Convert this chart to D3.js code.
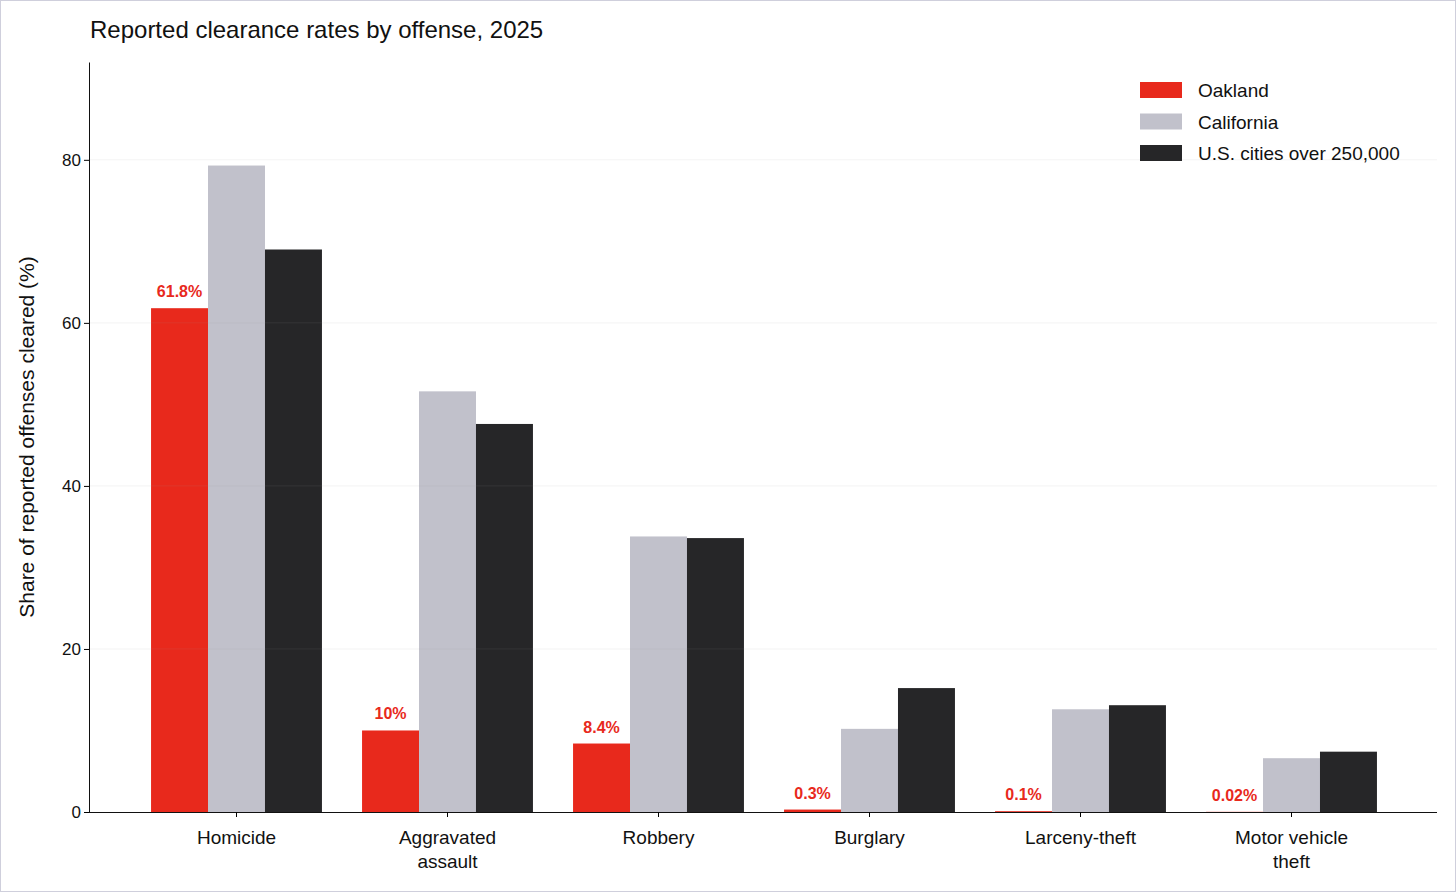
<!DOCTYPE html><html><head><meta charset="utf-8"><script src="https://cdn.jsdelivr.net/npm/d3@7"></script>
<style>body{margin:0;background:#fff}svg{display:block;font-family:"Liberation Sans",Arial,sans-serif}</style></head><body><svg id="c" width="1456" height="892"></svg><script>
const categories=["Homicide","Aggravated\nassault","Robbery","Burglary","Larceny-theft","Motor vehicle\ntheft"];
const seriesNames=["Oakland","California","U.S. cities over 250,000"];
const oakland=[61.8,10,8.4,0.3,0.1,0.02];
const california=[79.3,51.6,33.8,10.2,12.6,6.6];
const usCities=[69,47.6,33.6,15.2,13.1,7.4];
const oaklandLabels=["61.8%","10%","8.4%","0.3%","0.1%","0.02%"];
const yTicks=[0,20,40,60,80];
const colors=["#e8291c","#c1c1cb","#262628"];
const svg=d3.select("#c");
svg.append("rect").attr("x",0.5).attr("y",0.5).attr("width",1455).attr("height",891).attr("fill","none").attr("stroke","#cfcfdc");
const y=d3.scaleLinear().domain([0,92]).range([812,62]);
const x=d3.scaleBand().domain(categories).range([131,1397]).paddingInner(0.19).paddingOuter(0.095);
const xs=d3.scaleBand().domain(seriesNames).range([0,x.bandwidth()]);
const data=[oakland,california,usCities];
svg.append("text").attr("x",90).attr("y",38).attr("font-size",24).attr("fill","#111").text("Reported clearance rates by offense, 2025");
data.forEach((vals,si)=>{
 svg.append("g").selectAll("rect").data(vals).join("rect")
  .attr("x",(d,i)=>x(categories[i])+xs(seriesNames[si])).attr("width",xs.bandwidth())
  .attr("y",d=>y(d)).attr("height",d=>y(0)-y(d)).attr("fill",colors[si]);
});
svg.append("g").selectAll("line").data(yTicks.slice(1)).join("line")
 .attr("x1",89).attr("x2",1437).attr("y1",d=>y(d)).attr("y2",d=>y(d)).attr("stroke","#999").attr("stroke-opacity",0.12);
svg.append("g").selectAll("text").data(oakland).join("text")
 .attr("x",(d,i)=>x(categories[i])+xs(seriesNames[0])+xs.bandwidth()/2).attr("y",d=>y(d)-11)
 .attr("text-anchor","middle").attr("font-size",16).attr("font-weight","bold").attr("fill","#e8291c").text((d,i)=>oaklandLabels[i]);
const ya=svg.append("g").attr("transform","translate(89,0)").call(d3.axisLeft(y).tickValues(yTicks).tickSize(5).tickSizeOuter(0));
ya.selectAll("text").attr("font-size",17).attr("fill","#111").attr("font-family","Liberation Sans");
ya.select(".domain").attr("stroke","#111");
const xa=svg.append("g").attr("transform","translate(0,812)").call(d3.axisBottom(x).tickSize(5).tickSizeOuter(0).tickFormat(""));
xa.select(".domain").attr("d","M89,0.5H1437").attr("stroke","#111");
xa.selectAll(".tick").each(function(d){
 const t=d3.select(this).append("text").attr("y",32).attr("fill","#111").attr("font-size",19).attr("text-anchor","middle");
 d.split("\n").forEach((l,i)=>t.append("tspan").attr("x",0).attr("dy",i?24:0).text(l));
});
svg.append("text").attr("transform","translate(34,437) rotate(-90)").attr("text-anchor","middle").attr("font-size",21).attr("fill","#111").text("Share of reported offenses cleared (%)");
const lg=svg.append("g").selectAll("g").data(seriesNames).join("g").attr("transform",(d,i)=>`translate(1140,${90+i*31.5})`);
lg.append("rect").attr("y",-8).attr("width",42).attr("height",16).attr("fill",(d,i)=>colors[i]);
lg.append("text").attr("x",58).attr("y",7).attr("font-size",19).attr("fill","#111").text(d=>d);
</script></body></html>
